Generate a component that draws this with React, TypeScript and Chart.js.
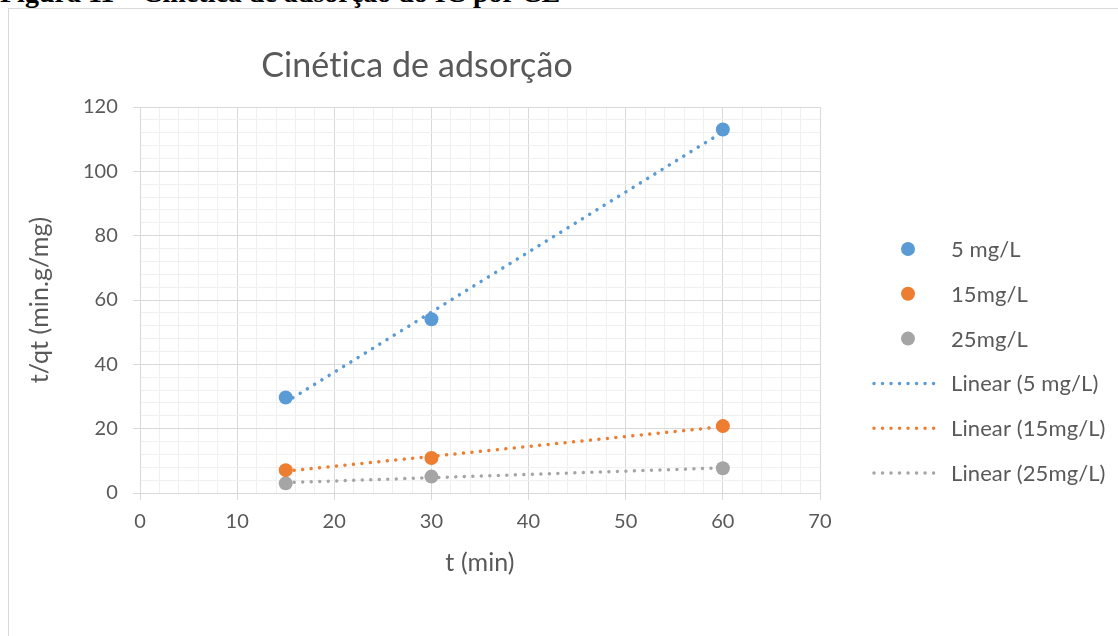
import React, { useEffect, useRef } from "react";
import { Chart, registerables } from "chart.js";

Chart.register(...registerables);

// ---- data ----
const timeMin = [15, 30, 60];
const series5 = [29.7, 54.0, 113.0];
const series15 = [7.1, 10.9, 20.8];
const series25 = [3.0, 5.1, 7.7];
const seriesLabels = ["5 mg/L", "15mg/L", "25mg/L"];
const trendLabels = ["Linear (5 mg/L)", "Linear (15mg/L)", "Linear (25mg/L)"];
const seriesColors = ["#5B9BD5", "#ED7D31", "#A5A5A5"];
const xMajorTicks = [0, 10, 20, 30, 40, 50, 60, 70];
const yMajorTicks = [0, 20, 40, 60, 80, 100, 120];

const chartTitle = "Cinética de adsorção";
const xTitle = "t (min)";
const yTitle = "t/qt (min.g/mg)";
const caption = "Figura 11 – Cinética de adsorção do IC por CE";

const FONT = "Lato";
const TEXT = "#595959";

function linearFit(xs: number[], ys: number[]) {
  const n = xs.length;
  const mx = xs.reduce((a, b) => a + b, 0) / n;
  const my = ys.reduce((a, b) => a + b, 0) / n;
  let sxy = 0;
  let sxx = 0;
  for (let i = 0; i < n; i++) {
    sxy += (xs[i] - mx) * (ys[i] - my);
    sxx += (xs[i] - mx) * (xs[i] - mx);
  }
  const m = sxy / sxx;
  return { m, b: my - m * mx };
}

function trendPoints(xs: number[], ys: number[]) {
  const { m, b } = linearFit(xs, ys);
  const x0 = Math.min(...xs);
  const x1 = Math.max(...xs);
  return [
    { x: x0, y: m * x0 + b },
    { x: x1, y: m * x1 + b },
  ];
}

const DOT_DASH = [0.01, 8.5];

const noLigaturePlugin = {
  id: "noLigature",
  beforeDraw(chart: any) {
    const ctx = chart.ctx;
    if ("letterSpacing" in ctx) ctx.letterSpacing = "0.1px";
  },
};

const legendPlugin = {
  id: "customLegend",
  afterDraw(chart: any) {
    const ctx = chart.ctx;
    const items = chart.data.datasets.map((d: any) => d);
    const startY = 249;
    const step = 44.8;
    ctx.save();
    ctx.font = `22px ${FONT}`;
    ctx.textBaseline = "middle";
    ctx.textAlign = "left";
    items.forEach((d: any, i: number) => {
      const y = startY + i * step;
      if (d.kind === "points") {
        ctx.beginPath();
        ctx.fillStyle = d.backgroundColor;
        ctx.arc(908, y, 7, 0, Math.PI * 2);
        ctx.fill();
      } else {
        ctx.beginPath();
        ctx.strokeStyle = d.borderColor;
        ctx.lineWidth = 3.5;
        ctx.lineCap = "round";
        ctx.setLineDash(DOT_DASH);
        ctx.moveTo(874, y);
        ctx.lineTo(937, y);
        ctx.stroke();
        ctx.setLineDash([]);
      }
      ctx.fillStyle = TEXT;
      ctx.fillText(d.label, 951, y + 1);
    });
    ctx.restore();
  },
};

export default function App() {
  const ref = useRef<HTMLCanvasElement | null>(null);

  useEffect(() => {
    if (!ref.current) return;
    const allSeries = [series5, series15, series25];
    const pointSets = allSeries.map((ys, i) => ({
      kind: "points",
      label: seriesLabels[i],
      data: timeMin.map((x, j) => ({ x, y: ys[j] })),
      backgroundColor: seriesColors[i],
      borderColor: seriesColors[i],
      pointRadius: 7,
      pointHoverRadius: 7,
      pointBorderWidth: 0,
      showLine: false,
      order: 0,
    }));
    const lineSets = allSeries.map((ys, i) => ({
      kind: "line",
      label: trendLabels[i],
      data: trendPoints(timeMin, ys),
      borderColor: seriesColors[i],
      backgroundColor: seriesColors[i],
      borderWidth: 3.5,
      borderDash: DOT_DASH,
      borderCapStyle: "round",
      pointRadius: 0,
      showLine: true,
      order: 1,
    }));

    const isMajor = (v: number, arr: number[]) => arr.includes(v);

    const chart = new Chart(ref.current, {
      type: "scatter",
      data: { datasets: [...pointSets, ...lineSets] as any },
      options: {
        animation: false,
        responsive: false,
        devicePixelRatio: 1,
        layout: { padding: { left: 14, right: 298, top: 0, bottom: 0 } },
        plugins: {
          legend: { display: false },
          tooltip: { enabled: false },
          title: {
            display: true,
            text: chartTitle,
            color: TEXT,
            font: { family: FONT, size: 34, weight: "normal", lineHeight: 1.2 },
            padding: { top: 45.6, bottom: 20.6 },
          },
        },
        scales: {
          x: {
            type: "linear",
            min: 0,
            max: 70,
            afterFit: (s: any) => {
              s.height = 143;
            },
            ticks: {
              stepSize: 2,
              autoSkip: false,
              maxTicksLimit: 100,
              maxRotation: 0,
              padding: 10,
              color: TEXT,
              font: { family: FONT, size: 20 },
              callback: (v: any) => (isMajor(Number(v), xMajorTicks) ? String(v) : ""),
            },
            grid: {
              color: (c: any) =>
                c.tick && isMajor(c.tick.value, xMajorTicks) ? "#D9D9D9" : "#F0F0F0",
              tickColor: (c: any) =>
                c.tick && isMajor(c.tick.value, xMajorTicks) ? "#D9D9D9" : "rgba(0,0,0,0)",
              tickLength: 7,
              lineWidth: 1,
            },
            border: { color: "#D9D9D9", width: 1 },
            title: {
              display: true,
              text: xTitle,
              color: TEXT,
              font: { family: FONT, size: 25, lineHeight: 1.2 },
              padding: { top: 0, bottom: 58 },
            },
          },
          y: {
            type: "linear",
            min: 0,
            max: 120,
            afterFit: (s: any) => {
              s.width = 126;
            },
            ticks: {
              stepSize: 4,
              autoSkip: false,
              maxTicksLimit: 100,
              padding: 15,
              color: TEXT,
              font: { family: FONT, size: 20 },
              callback: (v: any) => (isMajor(Number(v), yMajorTicks) ? String(v) : ""),
            },
            grid: {
              color: (c: any) =>
                c.tick && isMajor(c.tick.value, yMajorTicks) ? "#D9D9D9" : "#F0F0F0",
              tickColor: (c: any) =>
                c.tick && isMajor(c.tick.value, yMajorTicks) ? "#D9D9D9" : "rgba(0,0,0,0)",
              tickLength: 7,
              lineWidth: 1,
            },
            border: { color: "#D9D9D9", width: 1 },
            title: {
              display: true,
              text: yTitle,
              color: TEXT,
              font: { family: FONT, size: 25, lineHeight: 1.2 },
              padding: { top: 11, bottom: 0 },
            },
          },
        },
      },
      plugins: [noLigaturePlugin, legendPlugin],
    } as any);
    return () => chart.destroy();
  }, []);

  return (
    <div
      style={{
        position: "fixed",
        left: 0,
        top: 0,
        width: 1118,
        height: 636,
        overflow: "hidden",
        background: "#ffffff",
      }}
    >
      <div
        style={{
          position: "absolute",
          left: 0,
          top: -21,
          fontFamily: "'Liberation Serif', serif",
          fontWeight: "bold",
          fontSize: 28,
          lineHeight: "28px",
          whiteSpace: "nowrap",
          color: "#000",
        }}
      >
        {caption}
      </div>
      <div
        style={{
          position: "absolute",
          left: 8,
          top: 8,
          width: 1200,
          height: 700,
          border: "1px solid #D9D9D9",
        }}
      />
      <canvas
        ref={ref}
        width={1118}
        height={636}
        style={{ position: "absolute", left: 0, top: 0, width: 1118, height: 636 }}
      />
    </div>
  );
}
